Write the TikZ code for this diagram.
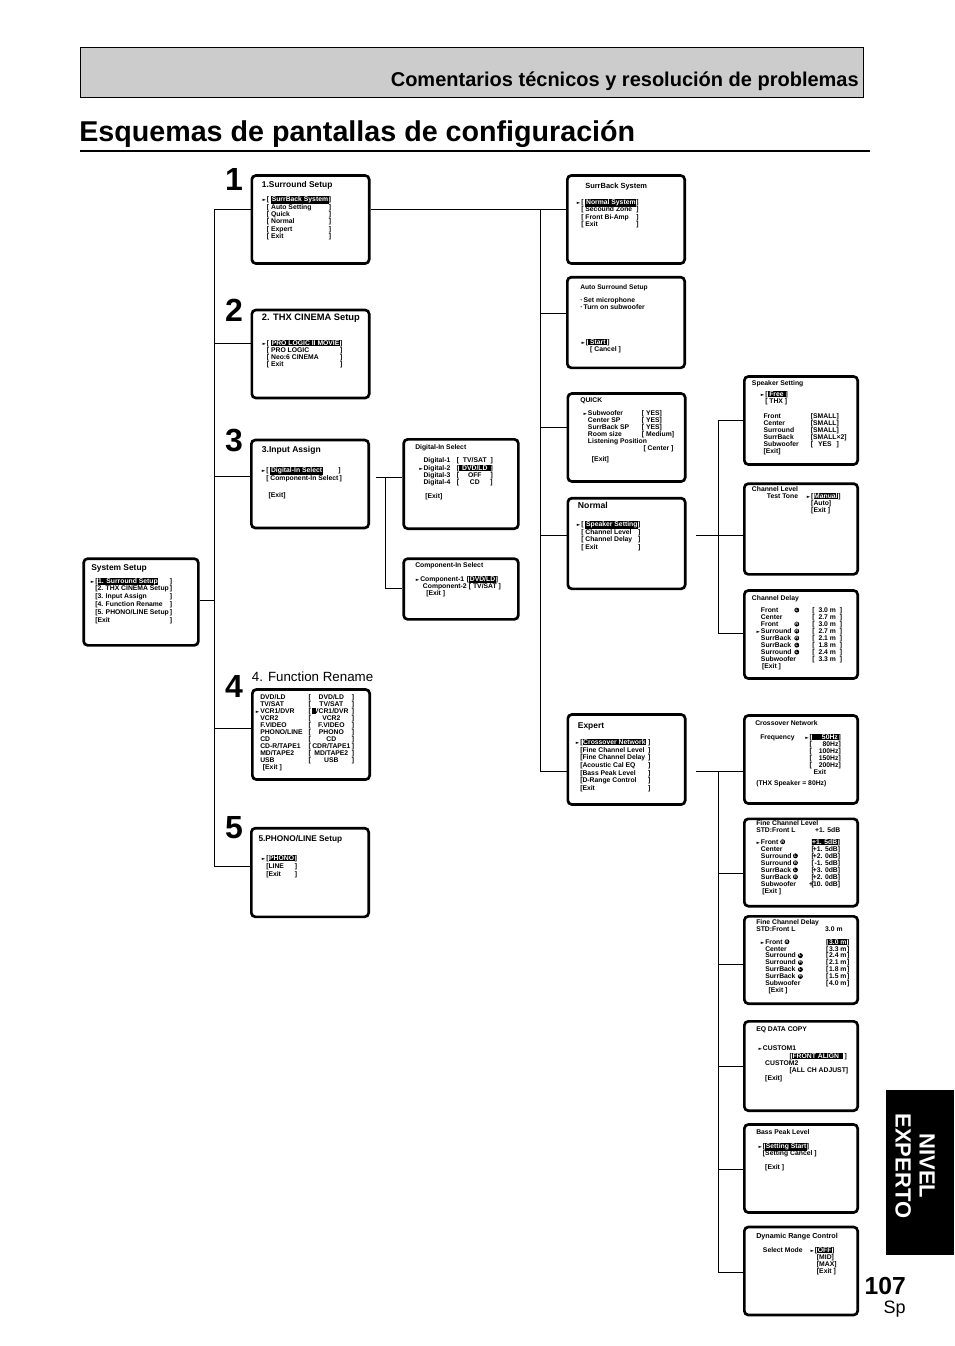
\documentclass[tikz,border=0pt]{standalone}
\usepackage{fontspec}
\setmainfont{Liberation Sans}
\newfontfamily\markfont{DejaVu Sans}
\usepackage{tikz}
\usetikzlibrary{positioning}
\definecolor{headgray}{RGB}{204,204,204}
\newcommand{\hilite}[1]{{\setlength{\fboxsep}{0.5pt}\colorbox{black}{\textcolor{white}{#1}}}}
\newcommand{\selmark}{\llap{{\markfont\fontsize{3.4}{3.4}\selectfont ►}\hspace{0.6pt}}}
\newcommand{\lval}[3]{\makebox[#1][l]{#2}#3}
\newcommand{\brk}[2]{[\makebox[#1]{#2}]}
\newcommand{\circl}[1]{\raisebox{-0.1pt}{\tikz\node[circle, fill=black, draw=none,
  text=white, anchor=center, inner sep=0pt, minimum size=3.7pt,
  font=\fontsize{2.9}{2.9}\selectfont\bfseries]{#1};}}
\newcommand{\frow}[2]{\lval{36.2pt}{#1}{\brk{30.8pt}{#2}}}
\newcommand{\drow}[3]{\makebox[25pt][l]{#1}\makebox[13.5pt][l]{#2}\brk{19pt}{#3}}
\newcommand{\lrow}[3]{\makebox[24pt][l]{#1}\makebox[14pt][l]{#2}[\makebox[18pt][r]{#3}]}
\newcommand{\trow}[3]{\makebox[24.5pt][l]{#1}\makebox[21.2pt][l]{#2}\brk{14pt}{#3}}
\tikzset{
  screen/.style={draw, line width=2pt, rounded corners=3pt, inner sep=0pt,
                 minimum width=88pt, minimum height=66pt},
  scrtitle/.style={anchor=base west, inner sep=0pt,
                   font=\fontsize{#1}{#1}\selectfont\bfseries},
  scrtitle/.default=5.1,
  scrtext/.style={anchor=base west, inner sep=0pt,
                  font=\fontsize{5.1}{#1}\selectfont\bfseries},
  scrtext/.default=5.7,
  link/.style={line width=0.6pt},
  bignum/.style={anchor=base, inner sep=0pt, font=\fontsize{24}{24}\selectfont\bfseries},
}
\begin{document}
\begin{tikzpicture}[x=0.75pt, y=-0.75pt]
  \useasboundingbox (0,0) rectangle (954,1346);

  % Header and title
  \node[draw, fill=headgray, line width=1pt, minimum width=587pt,
        minimum height=37.5pt, inner sep=0pt] (head) at (472,72.5) {};
  \node[anchor=base east, inner sep=0pt, font=\fontsize{15}{17}\selectfont\bfseries]
    (headtxt) at (859,86) {Comentarios técnicos y resolución de problemas};
  \node[anchor=base west, inner sep=0pt, font=\fontsize{21.5}{24}\selectfont\bfseries]
    (title) at (79,141) {Esquemas de pantallas de configuración};
  \draw[line width=1.5pt] (80,151) -- (870,151);

  % Step numbers
  \foreach \n/\y in {1/190, 2/321, 3/451, 4/697, 5/838}
    \node[bignum] (num\n) at (234,\y) {\n};

  % System Setup
  \node[screen, minimum width=86pt, minimum height=65pt] (sys) at (141,602) {};
  \node[scrtitle=6.3] (systitle) at (91,570.3) {System Setup};
  \node[scrtext=5.9] (systext) at (95,583.1) {\begin{tabular}[t]{@{}l@{}l@{}}
    \selmark{[}\hilite{1. Surround Setup} & \,]\\
    {[}2. THX CINEMA Setup & \,]\\
    {[}3. Input Assign & \,]\\
    {[}4. Function Rename & \,]\\
    {[}5. PHONO/LINE Setup & \,]\\
    {[}Exit & \,]
  \end{tabular}};

  % 1. Surround Setup
  \node[screen] (s1) at (310.5,219.5) {};
  \node[scrtitle=6.3] (s1title) at (261.7,187.3) {1.Surround Setup};
  \node[scrtext=5.55] (s1text) at (266.7,201.7) {\begin{tabular}[t]{@{}l@{}l@{}}
    \selmark{[} \hilite{SurrBack System} & ]\\
    {[} Auto Setting & ]\\
    {[} Quick & ]\\
    {[} Normal & ]\\
    {[} Expert & ]\\
    {[} Exit & ]
  \end{tabular}};

  % 2. THX CINEMA Setup
  \node[screen] (s2) at (310.5,354) {};
  \node[scrtitle=7] (s2title) at (261.7,320) {2. THX CINEMA Setup};
  \node[scrtext=5.3] (s2text) at (266.7,345.4) {\begin{tabular}[t]{@{}l@{}l@{}}
    \selmark{[} \hilite{PRO LOGIC II MOVIE} & ]\\
    {[} PRO LOGIC & ]\\
    {[} Neo:6 CINEMA & ]\\
    {[} Exit & ]
  \end{tabular}};

  % 3. Input Assign
  \node[screen] (s3) at (310,484) {};
  \node[scrtitle=6.4] (s3title) at (261.7,452.3) {3.Input Assign};
  \node[scrtext=6.2] (s3text) at (266,472.4) {\begin{tabular}[t]{@{}l@{}l@{}}
    \selmark{[} \hilite{Digital-In Select}\hspace{8pt} & ]\\
    {[} Component-In Select & \,]\\
    & \\
    \hspace{1.7pt}{[}Exit] &
  \end{tabular}};

  % Digital-In Select
  \node[screen, minimum width=86pt, minimum height=67pt] (din) at (461,484) {};
  \node[scrtitle] (dintitle) at (415,449.1) {Digital-In Select};
  \node[scrtext=5.3] (dintext) at (423.3,462.4) {\begin{tabular}[t]{@{}l@{}}
    \lval{25pt}{Digital-1}{\brk{23.5pt}{TV/SAT}}\\
    \selmark\lval{25pt}{Digital-2}{[\hilite{\makebox[22.5pt]{DVD/LD}}]}\\
    \lval{25pt}{Digital-3}{\brk{23.5pt}{OFF}}\\
    \lval{25pt}{Digital-4}{\brk{23.5pt}{CD}}\\
    \\
    \hspace{1.3pt}{[}Exit]
  \end{tabular}};

  % Component-In Select
  \node[screen, minimum width=86pt, minimum height=45.5pt] (cin) at (461,589) {};
  \node[scrtitle] (cintitle) at (415,567.4) {Component-In Select};
  \node[scrtext=5] (cintext) at (420,581.7) {\begin{tabular}[t]{@{}l@{}}
    \selmark\lval{35pt}{Component-1}{[\hilite{DVD/LD}]}\\
    \hspace{2pt}\lval{34.5pt}{Component-2}{[ TV/SAT ]}\\
    \hspace{4.5pt}{[}Exit ]
  \end{tabular}};

  % 4. Function Rename
  \node[anchor=base west, inner sep=0pt, font=\fontsize{10}{12}\selectfont]
    (s4label) at (251.7,681) {4. Function Rename};
  \node[screen, minimum height=67.5pt] (s4) at (311,734.5) {};
  \node[scrtext=5.25] (s4text) at (260,699.1) {\begin{tabular}[t]{@{}l@{}}
    \frow{DVD/LD}{DVD/LD}\\
    \frow{TV/SAT}{TV/SAT}\\
    \selmark\lval{36.2pt}{VCR1/DVR}{[\makebox[30.8pt]{\rlap{\rule[-0.9pt]{3pt}{4.6pt}}\hfil VCR1/DVR\hfil}]}\\
    \frow{VCR2}{VCR2}\\
    \frow{F.VIDEO}{F.VIDEO}\\
    \frow{PHONO/LINE}{PHONO}\\
    \frow{CD}{CD}\\
    \frow{CD-R/TAPE1}{CDR/TAPE1}\\
    \frow{MD/TAPE2}{MD/TAPE2}\\
    \frow{USB}{USB}\\
    \hspace{2pt}{[}Exit ]
  \end{tabular}};

  % 5. PHONO/LINE Setup
  \node[screen, minimum height=66.5pt] (s5) at (310,872.5) {};
  \node[scrtitle=6.2] (s5title) at (258.3,841.3) {5.PHONO/LINE Setup};
  \node[scrtext=5.9] (s5text) at (266,860.7) {\begin{tabular}[t]{@{}l@{}l@{}}
    \selmark{[}\hilite{PHONO} & ]\\
    {[}LINE & ]\\
    {[}Exit & ]
  \end{tabular}};

  % SurrBack System
  \node[screen] (sb) at (626,219.5) {};
  \node[scrtitle=5.6] (sbtitle) at (585,188.7) {SurrBack System};
  \node[scrtext=5.4] (sbtext) at (581,204.7) {\begin{tabular}[t]{@{}l@{}l@{}}
    \selmark{[} \hilite{Normal System} & ]\\
    {[} Secound Zone & ]\\
    {[} Front Bi-Amp & ]\\
    {[} Exit & ]
  \end{tabular}};

  % Auto Surround Setup
  \node[screen, minimum height=68pt] (auto) at (626,322.5) {};
  \node[scrtitle=5] (autotitle) at (580,289.1) {Auto Surround Setup};
  \node[scrtext=5] (autonote) at (580,302.4) {\begin{tabular}[t]{@{}l@{}}
    ·\,Set microphone\\
    ·\,Turn on subwoofer
  \end{tabular}};
  \node[scrtext=5.5] (autotext) at (585.7,344.1) {\begin{tabular}[t]{@{}l@{}}
    \selmark{[}\hilite{\,Start\,}]\\
    \hspace{3.2pt}{[} Cancel ]
  \end{tabular}};

  % QUICK
  \node[screen] (quick) at (626.5,437.5) {};
  \node[scrtitle] (quicktitle) at (580,402.4) {QUICK};
  \node[scrtext=5.2] (quicktext) at (587.7,415.7) {\begin{tabular}[t]{@{}l@{}}
    \selmark\lval{40.5pt}{Subwoofer}{[ YES]}\\
    \lval{40.5pt}{Center SP}{[ YES]}\\
    \lval{40.5pt}{SurrBack SP}{[ YES]}\\
    \lval{40.5pt}{Room size}{[ Medium]}\\
    Listening Position\\
    \hspace{41.7pt}[ Center ]\\[2.7pt]
    \hspace{3pt}[Exit]
  \end{tabular}};

  % Normal
  \node[screen, minimum height=68pt] (normal) at (626.5,543.5) {};
  \node[scrtitle=6.5] (normaltitle) at (577.7,508) {Normal};
  \node[scrtext=5.8] (normaltext) at (581,526.4) {\begin{tabular}[t]{@{}l@{}l@{}}
    \selmark{[} \hilite{Speaker Setting} & ]\\
    {[} Channel Level & ]\\
    {[} Channel Delay & ]\\
    {[} Exit & ]
  \end{tabular}};

  % Expert
  \node[screen, minimum height=67.5pt] (expert) at (626.5,759.5) {};
  \node[scrtitle=6.3] (experttitle) at (577.7,728) {Expert};
  \node[scrtext=5.7] (experttext) at (580,744.7) {\begin{tabular}[t]{@{}l@{}l@{}}
    \selmark{[}\hilite{Crossover Network} & \ ]\\
    {[}Fine Channel Level & \ ]\\
    {[}Fine Channel Delay & \ ]\\
    {[}Acoustic Cal EQ & \ ]\\
    {[}Bass Peak Level & \ ]\\
    {[}D-Range Control & \ ]\\
    {[}Exit & \ ]
  \end{tabular}};

  % Speaker Setting
  \node[screen, minimum width=85pt] (spk) at (801,420.5) {};
  \node[scrtitle] (spktitle) at (751.7,385.7) {Speaker Setting};
  \node[scrtext=5.25] (spkmode) at (765,396.4) {\begin{tabular}[t]{@{}l@{}}
    \selmark{[}\hilite{\,Free\,}]\\
    {[} THX ]
  \end{tabular}};
  \node[scrtext=5.25] (spktext) at (763.3,418.4) {\begin{tabular}[t]{@{}l@{}}
    \lval{35.5pt}{Front}{[SMALL]}\\
    \lval{35.5pt}{Center}{[SMALL]}\\
    \lval{35.5pt}{Surround}{[SMALL]}\\
    \lval{35.5pt}{SurrBack}{[SMALL×2]}\\
    \lval{35.5pt}{Subwoofer}{\brk{17.6pt}{YES}}\\
    {[}Exit]
  \end{tabular}};

  % Channel Level
  \node[screen, minimum width=85pt, minimum height=68pt] (chl) at (801,529) {};
  \node[scrtitle] (chltitle) at (751.7,491.4) {Channel Level};
  \node[scrtext=5.4] (chltext) at (766.7,498.4) {\begin{tabular}[t]{@{}l@{}}
    \lval{33.2pt}{Test Tone}{\selmark{[}\hilite{Manual}]}\\
    \hspace{33.2pt}{[}Auto]\\
    \hspace{33.2pt}{[}Exit ]
  \end{tabular}};

  % Channel Delay
  \node[screen, minimum width=85pt] (chd) at (801,634.5) {};
  \node[scrtitle] (chdtitle) at (751.7,600.3) {Channel Delay};
  \node[scrtext=5.2] (chdtext) at (760.7,612.4) {\begin{tabular}[t]{@{}l@{}}
    \drow{Front}{\circl{L}}{3.0 m}\\
    \drow{Center}{}{2.7 m}\\
    \drow{Front}{\circl{R}}{3.0 m}\\
    \selmark\drow{Surround}{\circl{R}}{2.7 m}\\
    \drow{SurrBack}{\circl{R}}{2.1 m}\\
    \drow{SurrBack}{\circl{L}}{1.8 m}\\
    \drow{Surround}{\circl{L}}{2.4 m}\\
    \drow{Subwoofer}{}{3.3 m}\\
    \hspace{0.8pt}{[}Exit ]
  \end{tabular}};

  % Crossover Network
  \node[screen, minimum width=85pt] (xover) at (801,759.5) {};
  \node[scrtitle] (xovertitle) at (755,725.3) {Crossover Network};
  \node[scrtext=5.3] (xovertext) at (760,739.1) {\begin{tabular}[t]{@{}l@{}}
    \lval{37pt}{Frequency}{\selmark{[}\hilite{\makebox[19pt][r]{50Hz}}]}\\
    \hspace{37pt}{[}\makebox[20pt][r]{80Hz}]\\
    \hspace{37pt}{[}\makebox[20pt][r]{100Hz}]\\
    \hspace{37pt}{[}\makebox[20pt][r]{150Hz}]\\
    \hspace{37pt}{[}\makebox[20pt][r]{200Hz}]\\
    \hspace{40pt}Exit
  \end{tabular}};
  \node[scrtext] (xovernote) at (756,785.1) {(THX Speaker = 80Hz)};

  % Fine Channel Level
  \node[screen, minimum width=85pt, minimum height=65.5pt] (fcl) at (801,862.5) {};
  \node[scrtext=5.8] (fcltitle) at (756,825) {\begin{tabular}[t]{@{}l@{}}
    Fine Channel Level\\
    \lval{44.2pt}{STD:Front L}{+1. 5dB}
  \end{tabular}};
  \node[scrtext=5.25] (fcltext) at (760.7,844.1) {\begin{tabular}[t]{@{}l@{}}
    \selmark\lrow{Front \circl{R}}{}{\hilite{+1. 5dB}}\\
    \lrow{Center}{}{+1. 5dB}\\
    \lrow{Surround}{\circl{L}}{+2. 0dB}\\
    \lrow{Surround}{\circl{R}}{-1. 5dB}\\
    \lrow{SurrBack}{\circl{L}}{+3. 0dB}\\
    \lrow{SurrBack}{\circl{R}}{+2. 0dB}\\
    \lrow{Subwoofer}{}{+10. 0dB}\\
    \hspace{1pt}{[}Exit ]
  \end{tabular}};

  % Fine Channel Delay
  \node[screen, minimum width=85pt, minimum height=65.5pt] (fcd) at (801,960) {};
  \node[scrtext=5.8] (fcdtitle) at (756,924) {\begin{tabular}[t]{@{}l@{}}
    Fine Channel Delay\\
    \lval{51.7pt}{STD:Front L}{3.0 m}
  \end{tabular}};
  \node[scrtext=5] (fcdtext) at (765,944.1) {\begin{tabular}[t]{@{}l@{}}
    \selmark\trow{Front \circl{R}}{}{\hilite{3.0 m}}\\
    \trow{Center}{}{3.3 m}\\
    \trow{Surround}{\circl{L}}{2.4 m}\\
    \trow{Surround}{\circl{R}}{2.1 m}\\
    \trow{SurrBack}{\circl{L}}{1.8 m}\\
    \trow{SurrBack}{\circl{R}}{1.5 m}\\
    \trow{Subwoofer}{}{4.0 m}\\
    \hspace{2.5pt}{[}Exit ]
  \end{tabular}};

  % EQ DATA COPY
  \node[screen, minimum width=85pt, minimum height=67pt] (eq) at (801,1066) {};
  \node[scrtitle] (eqtitle) at (756,1031.4) {EQ DATA COPY};
  \node[scrtext=5.5] (eqtext) at (762.7,1050.7) {\begin{tabular}[t]{@{}l@{}}
    \selmark CUSTOM1\\
    \hspace{20pt}[\hilite{FRONT ALIGN\ \ }\,]\\
    \hspace{1.7pt}CUSTOM2\\
    \hspace{20pt}[ALL CH ADJUST]\\
    \hspace{1.7pt}[Exit]
  \end{tabular}};

  % Bass Peak Level
  \node[screen, minimum width=85pt] (bass) at (801,1168.5) {};
  \node[scrtitle] (basstitle) at (756,1134.1) {Bass Peak Level};
  \node[scrtext=5.25] (basstext) at (762.7,1148.4) {\begin{tabular}[t]{@{}l@{}}
    \selmark{[}\hilite{Setting Start}]\\
    {[}Setting Cancel ]\\
    \\
    \hspace{1.7pt}{[}Exit ]
  \end{tabular}};

  % Dynamic Range Control
  \node[screen, minimum width=85pt] (drc) at (801,1271) {};
  \node[scrtitle=5.4] (drctitle) at (756,1238.1) {Dynamic Range Control};
  \node[scrtext=5] (drctext) at (762.7,1252.4) {\begin{tabular}[t]{@{}l@{}}
    \lval{39pt}{Select Mode}{\selmark{[}\hilite{OFF}]}\\
    \hspace{40.5pt}{[}MID]\\
    \hspace{40.5pt}{[}MAX]\\
    \hspace{40.5pt}{[}Exit ]
  \end{tabular}};

  % Connectors: System Setup
  \coordinate (sysj) at (214,600);
  \foreach \n/\y in {1/209, 2/343, 3/476, 4/728, 5/866}
    \coordinate (a\n) at (214,\y);
  \draw[link] (sysj -| sys.east) -- (sysj);
  \draw[link] (a1) -- (a5);
  \foreach \n in {1,...,5}
    \draw[link] (a\n) -- (a\n -| s\n.west);

  % Connectors: Surround Setup
  \coordinate (b1) at (540,209);
  \coordinate (b2) at (540,313);
  \coordinate (b3) at (540,427);
  \coordinate (b4) at (540,535);
  \coordinate (b5) at (540,771);
  \draw[link] (b1 -| s1.east) -- (b1 -| sb.west);
  \draw[link] (b1) -- (b5);
  \foreach \n/\s in {b2/auto, b3/quick, b4/normal, b5/expert}
    \draw[link] (\n) -- (\n -| \s.west);

  % Connectors: Input Assign
  \coordinate (c1) at (385,477);
  \coordinate (c2) at (385,588);
  \draw[link, shorten <=4.5pt] (c1 -| s3.east) -- (c1 -| din.west);
  \draw[link] (c1) -- (c2) -- (c2 -| cin.west);

  % Connectors: Normal
  \coordinate (d1) at (718,420);
  \coordinate (d2) at (718,535);
  \coordinate (d3) at (718,633);
  \draw[link, shorten <=7pt] (d2 -| normal.east) -- (d2 -| chl.west);
  \draw[link] (d1) -- (d3);
  \draw[link] (d1) -- (d1 -| spk.west);
  \draw[link] (d3) -- (d3 -| chd.west);

  % Connectors: Expert
  \coordinate (e1) at (718,771);
  \coordinate (e2) at (718,873);
  \coordinate (e3) at (718,964);
  \coordinate (e4) at (718,1066);
  \coordinate (e5) at (718,1169);
  \coordinate (e6) at (718,1272);
  \draw[link, shorten <=7pt] (e1 -| expert.east) -- (e1 -| xover.west);
  \draw[link] (e1) -- (e6);
  \foreach \n/\s in {e2/fcl, e3/fcd, e4/eq, e5/bass, e6/drc}
    \draw[link] (\n) -- (\n -| \s.west);

  % Side tab and page number
  \node[fill=black, minimum width=51pt, minimum height=123.75pt, inner sep=0pt]
    (tab) at (920,1172.5) {};
  \node[rotate=-90, text=white, align=center, inner sep=0pt,
        font=\fontsize{16.5}{18}\selectfont\bfseries] (tabtxt) at (915,1166) {NIVEL\\EXPERTO};
  \node[anchor=base east, inner sep=0pt, font=\fontsize{18.5}{20}\selectfont\bfseries]
    (page) at (906,1294) {107};
  \node[anchor=base east, inner sep=0pt, font=\fontsize{13.5}{15}\selectfont]
    (lang) at (906,1313) {Sp};
\end{tikzpicture}
\end{document}
